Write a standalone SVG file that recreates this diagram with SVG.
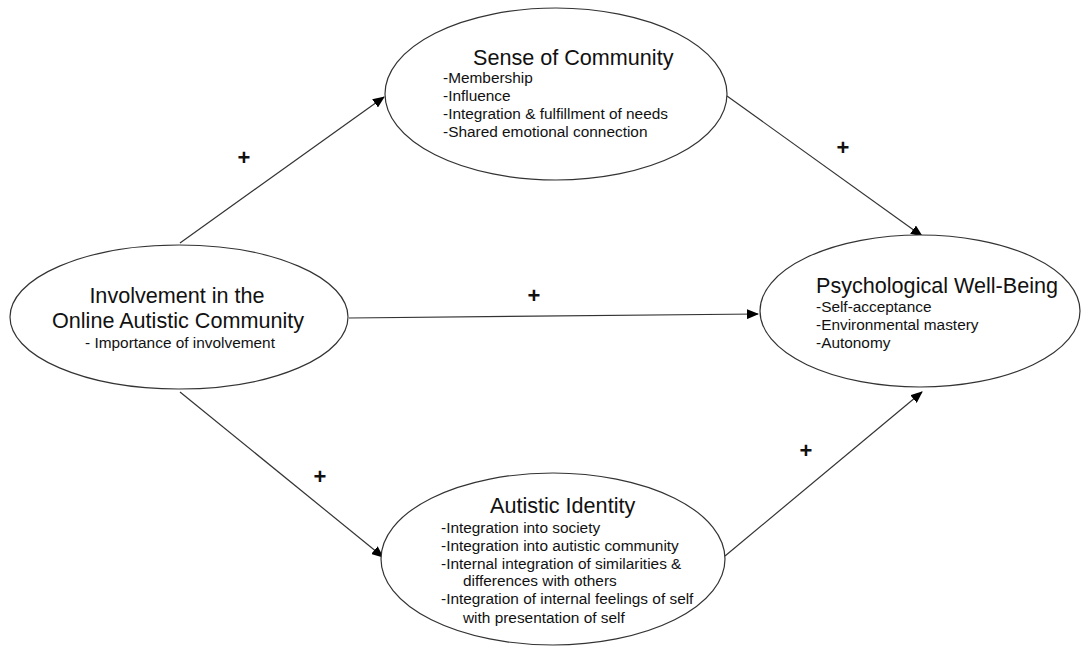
<svg xmlns="http://www.w3.org/2000/svg" width="1082" height="646" viewBox="0 0 1082 646">
<defs>
<marker id="ah" markerWidth="12" markerHeight="10" refX="11" refY="5" orient="auto" markerUnits="userSpaceOnUse">
<path d="M0,0 L12,5 L0,10 Z" fill="#000"/>
</marker>
<style>
.node ellipse{fill:#fff;stroke:#333;stroke-width:1.2}
.t{font-family:"Liberation Sans",Arial,sans-serif;font-size:21.6px;fill:#111}
.s{font-family:"Liberation Sans",Arial,sans-serif;font-size:15.4px;fill:#111}
.p{font-family:"Liberation Sans",Arial,sans-serif;font-size:22px;font-weight:bold;fill:#111;text-anchor:middle}
#connectors line{stroke:#333;stroke-width:1.2;marker-end:url(#ah)}
</style>
</defs>
<rect width="1082" height="646" fill="#fff"/>
<g id="connectors">
<line x1="180" y1="243" x2="384" y2="97"/>
<line x1="727" y1="96" x2="922" y2="236"/>
<line x1="349" y1="318" x2="758" y2="314"/>
<line x1="180" y1="392" x2="383" y2="557"/>
<line x1="725" y1="556" x2="922" y2="392"/>
<text class="p" x="244" y="165">+</text>
<text class="p" x="843" y="155">+</text>
<text class="p" x="534" y="303">+</text>
<text class="p" x="320" y="484">+</text>
<text class="p" x="806" y="458">+</text>
</g>
<g id="involvement" class="node">
<ellipse cx="179" cy="317" rx="169" ry="72"/>
<text class="t" x="177" y="303" text-anchor="middle">Involvement in the</text>
<text class="t" x="178" y="328" text-anchor="middle">Online Autistic Community</text>
<text class="s" x="180" y="348" text-anchor="middle">- Importance of involvement</text>
</g>
<g id="sense" class="node">
<ellipse cx="556" cy="94" rx="171" ry="86"/>
<text class="t" x="473" y="65">Sense of Community</text>
<text class="s" x="443" y="83">-Membership</text>
<text class="s" x="443" y="101">-Influence</text>
<text class="s" x="443" y="119">-Integration &amp; fulfillment of needs</text>
<text class="s" x="443" y="137">-Shared emotional connection</text>
</g>
<g id="wellbeing" class="node">
<ellipse cx="920" cy="311" rx="160" ry="76"/>
<text class="t" x="816" y="293">Psychological Well-Being</text>
<text class="s" x="816" y="312">-Self-acceptance</text>
<text class="s" x="816" y="330">-Environmental mastery</text>
<text class="s" x="816" y="348">-Autonomy</text>
</g>
<g id="identity" class="node">
<ellipse cx="553" cy="559" rx="172" ry="86"/>
<text class="t" x="490" y="513">Autistic Identity</text>
<text class="s" x="441" y="533">-Integration into society</text>
<text class="s" x="441" y="551">-Integration into autistic community</text>
<text class="s" x="441" y="569">-Internal integration of similarities &amp;</text>
<text class="s" x="463" y="586">differences with others</text>
<text class="s" x="441" y="604">-Integration of internal feelings of self</text>
<text class="s" x="463" y="623">with presentation of self</text>
</g>
</svg>
